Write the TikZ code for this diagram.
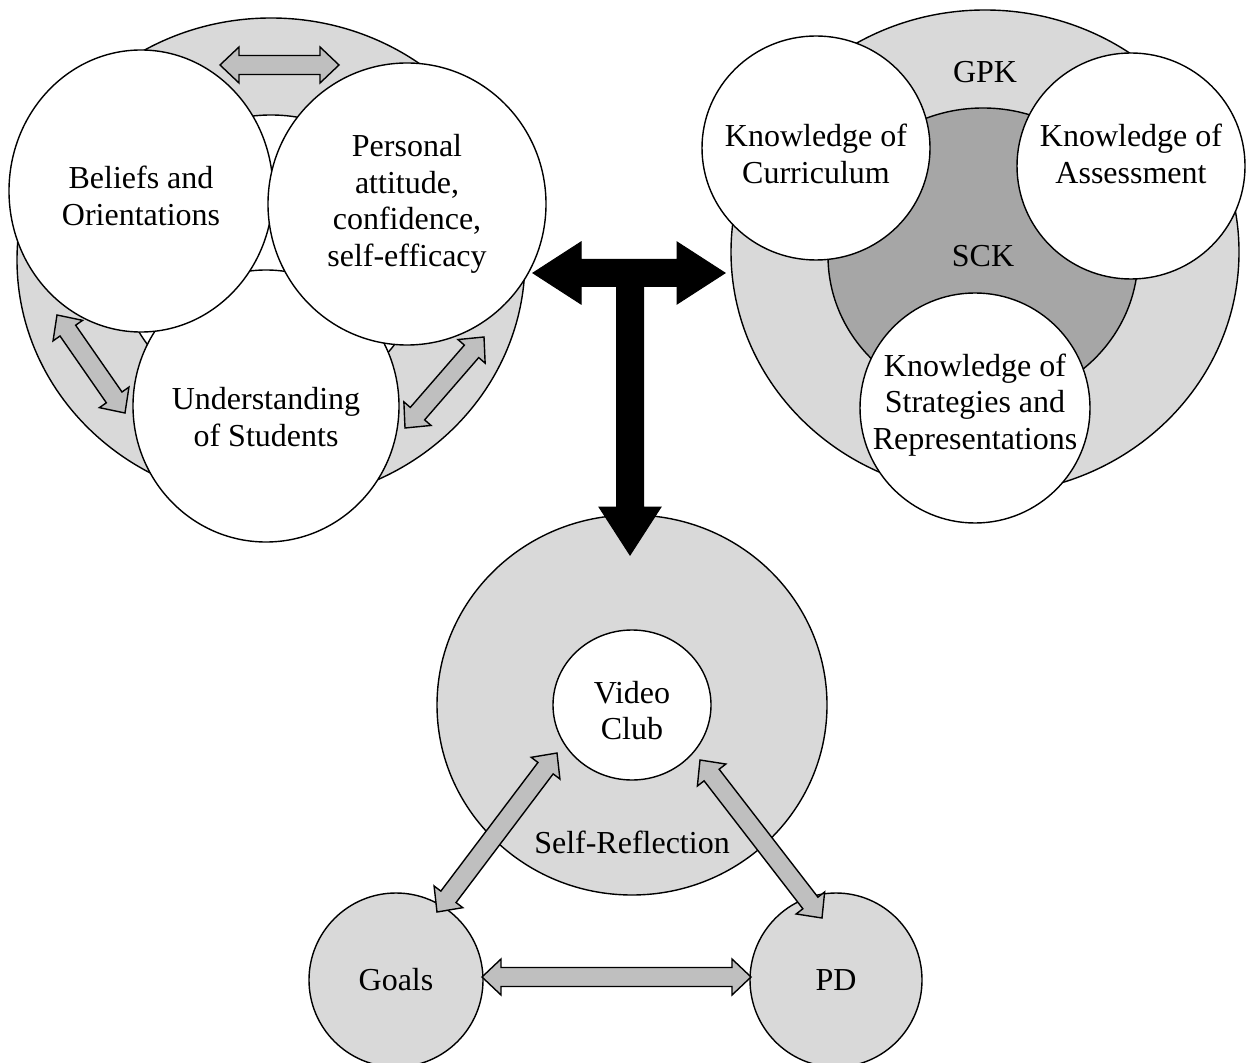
\documentclass[tikz,border=0pt]{standalone}
\usepackage{fontspec}
\setmainfont{Liberation Serif}
\usetikzlibrary{shapes.geometric,calc}
\definecolor{light_gray}{HTML}{D9D9D9}
\definecolor{dark_gray}{HTML}{A6A6A6}
\definecolor{arrow_gray}{HTML}{BFBFBF}

% text lines of a bubble, moved up or down a little inside it
\newcommand{\lift}[2]{\raisebox{#1}[\height][\depth]{\begin{tabular}{@{}c@{}}#2\end{tabular}}}

% gray two-headed block arrow between two named points
\newcommand{\headlen}{9.5pt}
\newcommand{\headhalf}{9pt}
\newcommand{\shafthalf}{4.75pt}
\newcommand{\dblarrow}[2]{%
  \draw[grayarrow] (#1)
    -- ($(#1)!\headlen!(#2)!\headhalf!90:(#2)$)
    -- ($(#1)!\headlen!(#2)!\shafthalf!90:(#2)$)
    -- ($(#2)!\headlen!(#1)!\shafthalf!-90:(#1)$)
    -- ($(#2)!\headlen!(#1)!\headhalf!-90:(#1)$)
    -- (#2)
    -- ($(#2)!\headlen!(#1)!\headhalf!90:(#1)$)
    -- ($(#2)!\headlen!(#1)!\shafthalf!90:(#1)$)
    -- ($(#1)!\headlen!(#2)!\shafthalf!-90:(#2)$)
    -- ($(#1)!\headlen!(#2)!\headhalf!-90:(#2)$)
    -- cycle;}

\begin{document}
\begin{tikzpicture}[x=0.5pt,y=-0.5pt,
    every node/.style={font=\fontsize{16}{18.3}\selectfont},
    bubble/.style 2 args={ellipse,draw,line width=0.7pt,inner sep=-20pt,
      align=center,minimum width=#1,minimum height=#2},
    ring/.style={fill=light_gray},
    hole/.style={fill=white},
    core/.style={fill=dark_gray},
    grayarrow/.style={draw,line width=0.7pt,fill=arrow_gray,line join=miter},
    blackarrow/.style={fill=black,draw=black,line width=0.5pt}]
    \useasboundingbox (0,0) rectangle (1246,1063);

    % Left cluster
    \node[bubble={254pt}{242pt},ring] (leftring) at (271,260) {};
    \node[bubble={152pt}{145pt},hole] (lefthole) at (271,260) {};
    \node[bubble={133pt}{136pt},hole] (students) at (266,406) {\lift{-7.25pt}{Understanding\\of Students}};
    \node[bubble={132pt}{141pt},hole] (beliefs) at (141,191) {\lift{-4.25pt}{Beliefs and\\Orientations}};
    \node[bubble={139pt}{141pt},hole] (attitude) at (407,204) {Personal\\attitude,\\confidence,\\self-efficacy};
    \coordinate (ba1) at (220,65);  \coordinate (ba2) at (339,65);
    \coordinate (bs1) at (57,315);  \coordinate (bs2) at (125,413);
    \coordinate (as1) at (484,337); \coordinate (as2) at (405,428);
    \dblarrow{ba1}{ba2}
    \dblarrow{bs1}{bs2}
    \dblarrow{as1}{as2}

    % Right cluster
    \node[bubble={254pt}{242pt},ring] (gpkring) at (985,252) {};
    \node at (985,72) (gpk) {GPK};
    \node[bubble={155pt}{148pt},core] (sck) at (983,256) {SCK};
    \node[bubble={114pt}{112pt},hole] (curriculum) at (816,148) {\lift{-4.75pt}{Knowledge of\\Curriculum}};
    \node[bubble={114pt}{113pt},hole] (assessment) at (1131,166) {\lift{4.25pt}{Knowledge of\\Assessment}};
    \node[bubble={115pt}{115pt},hole] (strategies) at (975,408) {\lift{1.25pt}{Knowledge of\\Strategies and\\Representations}};

    % Bottom cluster
    \node[bubble={195pt}{190pt},ring] (selfref) at (632,705) {};
    \node at (632,842) (reflection) {Self-Reflection};
    \node[bubble={79pt}{75pt},hole] (video) at (632,705) {\lift{-4.5pt}{Video\\Club}};
    \node[bubble={87pt}{87pt},ring] (goals) at (396,980) {Goals};
    \node[bubble={86pt}{87pt},ring] (pd) at (836,980) {PD};
    \coordinate (gv1) at (437,912); \coordinate (gv2) at (557,753);
    \coordinate (vp1) at (700,760); \coordinate (vp2) at (822,918);
    \coordinate (gp1) at (482,977); \coordinate (gp2) at (751,977);
    \dblarrow{gv1}{gv2}
    \dblarrow{vp1}{vp2}
    \dblarrow{gp1}{gp2}

    % T arrow
    \coordinate (tleft) at (533,273);
    \coordinate (tright) at (725,273);
    \coordinate (tdown) at (630,555);
    \draw[blackarrow] (tleft) -- ($(tleft)+(48,-31)$) -- ($(tleft)+(48,-13.5)$)
        -- ($(tright)+(-48,-13.5)$) -- ($(tright)+(-48,-31)$) -- (tright)
        -- ($(tright)+(-48,31)$) -- ($(tright)+(-48,13.5)$)
        -- ($(tdown)+(13.5,-268.5)$) -- ($(tdown)+(13.5,-48)$) -- ($(tdown)+(31,-48)$)
        -- (tdown)
        -- ($(tdown)+(-31,-48)$) -- ($(tdown)+(-13.5,-48)$) -- ($(tdown)+(-13.5,-268.5)$)
        -- ($(tleft)+(48,13.5)$) -- ($(tleft)+(48,31)$) -- cycle;
\end{tikzpicture}
\end{document}
